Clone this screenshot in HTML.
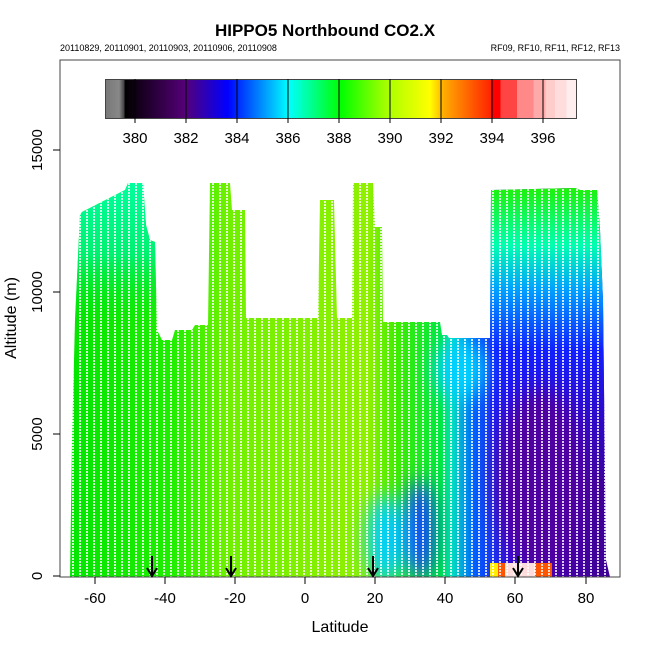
<!DOCTYPE html><html><head><style>body{margin:0;background:#fff}svg{display:block}text{font-family:"Liberation Sans",sans-serif}</style></head><body>
<svg width="650" height="650" viewBox="0 0 650 650" xmlns="http://www.w3.org/2000/svg">
<defs>
<clipPath id="c"><polygon points="70,577 72,440 75,320 80,215 82,212 125,190 128,183 143,183 146,225 150,240 155,242 157,330 162,340 172,340 175,330 192,330 195,325 208,325 210,183 230,183 232,210 245,210 246,318 318,318 320,200 334,200 337,318 352,318 353,183 373,183 375,227 382,227 383,322 440,322 442,335 447,335 449,338 490,338 491,190 575,188 580,190 597,190 600,230 603,300 606,560 610,577"/></clipPath>
<linearGradient id="g" x1="0" x2="1"><stop offset="0" stop-color="#00e400"/><stop offset=".2" stop-color="#20ee00"/><stop offset=".3" stop-color="#70f000"/><stop offset=".55" stop-color="#90f000"/><stop offset=".6" stop-color="#40ec00"/><stop offset=".68" stop-color="#00e840"/><stop offset=".7" stop-color="#00e0c0"/><stop offset=".74" stop-color="#0060ff"/><stop offset=".8" stop-color="#3010e0"/><stop offset=".86" stop-color="#4800b0"/><stop offset="1" stop-color="#3c0090"/></linearGradient>
<linearGradient id="v" x1="0" y1="0" x2="0" y2="1"><stop offset="0" stop-color="#20f000"/><stop offset=".2" stop-color="#00ffb0"/><stop offset=".35" stop-color="#00a0ff"/><stop offset=".55" stop-color="#1020ff"/><stop offset=".8" stop-color="#2010f0" stop-opacity=".5"/><stop offset="1" stop-color="#1020ff" stop-opacity="0"/></linearGradient>
<linearGradient id="lt" x1="0" y1="0" x2="0" y2="1"><stop offset="0" stop-color="#00ffa0"/><stop offset=".5" stop-color="#00f070"/><stop offset="1" stop-color="#00e400" stop-opacity="0"/></linearGradient>
<linearGradient id="cb" x1="105" x2="576" gradientUnits="userSpaceOnUse">
<stop offset="0" stop-color="#777"/><stop offset=".03" stop-color="#888"/><stop offset=".04" stop-color="#444"/><stop offset=".043" stop-color="#000"/><stop offset=".17" stop-color="#550077"/><stop offset=".26" stop-color="#0000ff"/><stop offset=".33" stop-color="#0088ff"/><stop offset=".39" stop-color="#00ffff"/><stop offset=".5" stop-color="#00ff00"/><stop offset=".6" stop-color="#aaff00"/><stop offset=".69" stop-color="#ffff00"/><stop offset=".72" stop-color="#ffaa00"/><stop offset=".82" stop-color="#ff2200"/><stop offset=".82" stop-color="#ff0000"/><stop offset=".84" stop-color="#ff0000"/><stop offset=".84" stop-color="#ff4444"/><stop offset=".875" stop-color="#ff4444"/><stop offset=".875" stop-color="#ff8888"/><stop offset=".91" stop-color="#ff8888"/><stop offset=".91" stop-color="#ffaaaa"/><stop offset=".935" stop-color="#ffaaaa"/><stop offset=".935" stop-color="#ffcccc"/><stop offset=".955" stop-color="#ffcccc"/><stop offset=".955" stop-color="#ffdddd"/><stop offset=".98" stop-color="#ffdddd"/><stop offset=".98" stop-color="#ffeeee"/><stop offset="1" stop-color="#ffeeee"/></linearGradient>
<pattern id="p" width="7" height="650" patternUnits="userSpaceOnUse"><line x1="3" y1="0" x2="3" y2="650" stroke="#fff" stroke-width="1.6" stroke-dasharray="2 1"/></pattern>
<filter id="b"><feGaussianBlur stdDeviation="10"/></filter>
</defs>
<text x="325" y="36" font-size="17" font-weight="bold" text-anchor="middle">HIPPO5 Northbound CO2.X</text>
<text x="60" y="51" font-size="9">20110829, 20110901, 20110903, 20110906, 20110908</text>
<text x="620" y="51" font-size="9" text-anchor="end">RF09, RF10, RF11, RF12, RF13</text>
<g clip-path="url(#c)">
<rect x="60" y="150" width="560" height="430" fill="url(#g)"/>
<rect x="60" y="180" width="100" height="150" fill="url(#lt)"/>
<rect x="490" y="185" width="120" height="300" fill="url(#v)"/>
<g filter="url(#b)">
<ellipse cx="385" cy="540" rx="18" ry="45" fill="#00d0ff"/>
<ellipse cx="420" cy="530" rx="15" ry="50" fill="#1040ff"/>
<ellipse cx="540" cy="480" rx="45" ry="90" fill="#5000a0"/>
<ellipse cx="460" cy="370" rx="25" ry="30" fill="#00d0ff"/>
</g>
<rect x="490" y="563" width="62" height="14" fill="#ff5500"/>
<rect x="505" y="563" width="30" height="14" fill="#ffdddd"/>
<rect x="490" y="563" width="8" height="14" fill="#ffee00"/>
<rect x="60" y="150" width="560" height="430" fill="url(#p)"/>
</g>
<rect x="60" y="60" width="560" height="517" fill="none" stroke="#444" stroke-width="1"/>
<rect x="105.5" y="79.5" width="471" height="39" fill="url(#cb)" stroke="#444"/>
<g stroke="#000" stroke-width="1">
<path d="M135 79v44M186 79v44M237 79v44M288 79v44M339 79v44M390 79v44M441 79v44M492 79v44M543 79v44"/>
<path d="M53 576h7M53 434h7M53 292h7M53 150h7"/>
<path d="M95 577v7M165 577v7M235 577v7M305 577v7M375 577v7M445 577v7M515 577v7M586 577v7"/>
<path d="M152 556v18M231 556v18M373 556v18M518 556v18" stroke-width="2"/>
<path d="M147 568l5 8 5-8M226 568l5 8 5-8M368 568l5 8 5-8M513 568l5 8 5-8" fill="none" stroke-width="2"/>
</g>
<g font-size="15" text-anchor="middle">
<text x="135" y="143">380</text><text x="186" y="143">382</text><text x="237" y="143">384</text><text x="288" y="143">386</text><text x="339" y="143">388</text><text x="390" y="143">390</text><text x="441" y="143">392</text><text x="492" y="143">394</text><text x="543" y="143">396</text>
<text x="95" y="603">-60</text><text x="165" y="603">-40</text><text x="235" y="603">-20</text><text x="305" y="603">0</text><text x="375" y="603">20</text><text x="445" y="603">40</text><text x="515" y="603">60</text><text x="586" y="603">80</text>
<text transform="translate(42,576) rotate(-90)">0</text>
<text transform="translate(42,434) rotate(-90)">5000</text>
<text transform="translate(42,292) rotate(-90)">10000</text>
<text transform="translate(42,150) rotate(-90)">15000</text>
<text x="340" y="632" font-size="16">Latitude</text>
<text transform="translate(16,318) rotate(-90)" font-size="16">Altitude (m)</text>
</g>
</svg></body></html>
